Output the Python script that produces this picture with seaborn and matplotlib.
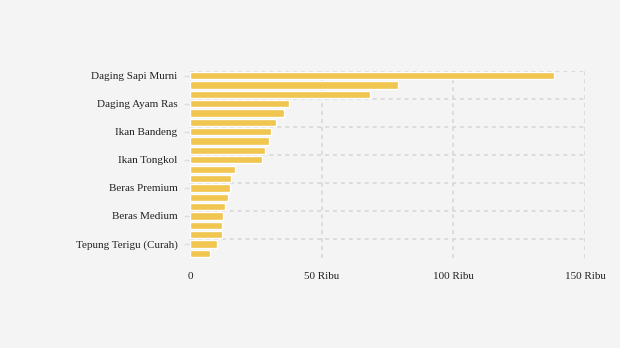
import matplotlib
matplotlib.use("Agg")
import matplotlib.pyplot as plt
import seaborn as sns
import pandas as pd
import numpy as np

# Data (values in thousands of Rupiah)
categories = [
    "Daging Sapi Murni", "Bawang Putih Bonggol", "Cabai Rawit Merah",
    "Daging Ayam Ras", "Cabai Merah Keriting", "Ikan Kembung",
    "Ikan Bandeng", "Telur Ayam Ras", "Bawang Merah",
    "Ikan Tongkol", "Gula Konsumsi", "Minyak Goreng Kemasan",
    "Beras Premium", "Minyak Goreng Curah", "Kedelai Biji Kering",
    "Beras Medium", "Garam Konsumsi", "Beras SPHP",
    "Tepung Terigu (Curah)", "Jagung Tk Peternak",
]
values = [138.2, 79.0, 68.3, 37.6, 35.7, 32.6, 30.8, 30.0, 28.5, 27.3,
          17.1, 15.6, 15.2, 14.4, 13.3, 12.5, 12.1, 12.1, 10.3, 7.6]
shown_labels = ["Daging Sapi Murni", "Daging Ayam Ras", "Ikan Bandeng",
                "Ikan Tongkol", "Beras Premium", "Beras Medium",
                "Tepung Terigu (Curah)"]
x_ticks = [0, 50, 100, 150]
x_tick_labels = ["0", "50 Ribu", "100 Ribu", "150 Ribu"]

df = pd.DataFrame({"cat": categories, "val": values})

sns.set_theme(style="white")
plt.rcParams["font.family"] = ["Liberation Serif", "DejaVu Serif"]

fig = plt.figure(figsize=(6.2, 3.48), dpi=100, facecolor="#F4F4F4")
ax = fig.add_axes([190/620, 1-258/348, (585-190)/620, (258-71)/348])
ax.set_facecolor("#F4F4F4")

sns.barplot(data=df, y="cat", x="val", orient="h", color="#F0C550",
            saturation=1, width=0.78, ax=ax, zorder=3)

n = len(categories)
ax.set_xlim(0, 150)
ax.set_ylim(n - 0.5, -0.5)

for s in ax.spines.values():
    s.set_visible(False)

grid_kw = dict(color="#DADADA", linewidth=1.3, linestyle=(0, (2.2, 2.2)), zorder=1)
for xv in x_ticks:
    ax.axvline(xv, **grid_kw)
for k in range(0, n, 3):
    ax.axhline(k - 0.5, **grid_kw)

ax.set_xticks(x_ticks)
ax.set_xticklabels(x_tick_labels)
ax.tick_params(axis="x", length=0, pad=10, labelsize=8, labelcolor="#222222")

ytick_pos = [categories.index(l) for l in shown_labels]
ax.set_yticks(ytick_pos)
ax.set_yticklabels(shown_labels)
ax.tick_params(axis="y", length=4, width=1, color="#DDDDDD", pad=5,
               labelsize=8, labelcolor="#222222", left=True)

ax.set_xlabel("")
ax.set_ylabel("")

fig.savefig("out.png", dpi=100, facecolor="#F4F4F4")
